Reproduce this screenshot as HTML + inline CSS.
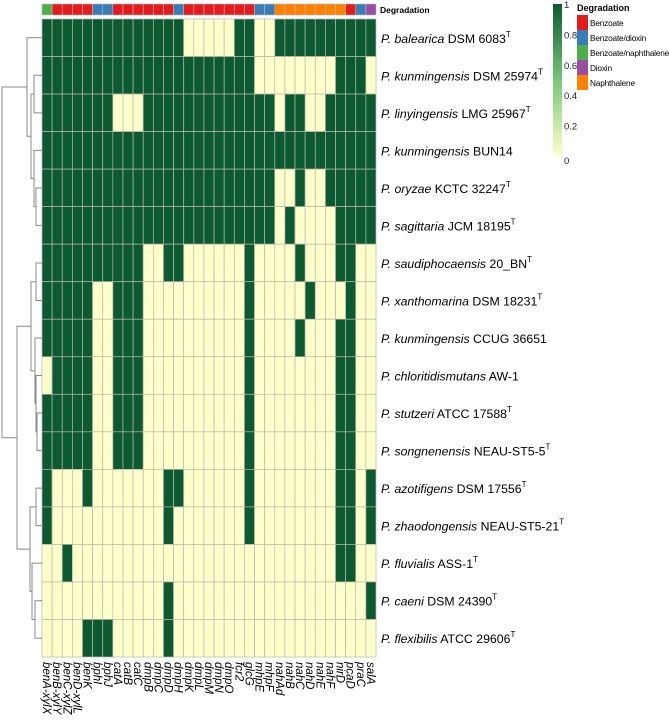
<!DOCTYPE html>
<html><head><meta charset="utf-8"><style>
body{margin:0;background:#fff;width:669px;height:720px;overflow:hidden}
svg{display:block;font-family:"Liberation Sans",sans-serif}
</style></head><body>
<svg id="chart" width="669" height="720"></svg>
<script>
const genes=["benA-xylX","benB-xylY","benC-xylZ","benD-xylL","benK","bphI","bphJ","catA","catB","catC","dmpB","dmpC","dmpD","dmpH","dmpK","dmpL","dmpM","dmpN","dmpO","fcr2","glcG","mhpE","mhpF","nahAd","nahB","nahC","nahD","nahE","nahF","nirD","pcaD","praC","salA"];
const geneClass=["Benzoate/naphthalene","Benzoate","Benzoate","Benzoate","Benzoate","Benzoate/dioxin","Benzoate/dioxin","Benzoate","Benzoate","Benzoate","Benzoate","Benzoate","Benzoate","Benzoate/dioxin","Benzoate","Benzoate","Benzoate","Benzoate","Benzoate","Benzoate","Benzoate","Benzoate/dioxin","Benzoate/dioxin","Naphthalene","Naphthalene","Naphthalene","Naphthalene","Naphthalene","Naphthalene","Naphthalene","Benzoate","Benzoate/dioxin","Dioxin"];
const speciesItalic=["P. balearica","P. kunmingensis","P. linyingensis","P. kunmingensis","P. oryzae","P. sagittaria","P. saudiphocaensis","P. xanthomarina","P. kunmingensis","P. chloritidismutans","P. stutzeri","P. songnenensis","P. azotifigens","P. zhaodongensis","P. fluvialis","P. caeni","P. flexibilis"];
const strains=["DSM 6083","DSM 25974","LMG 25967","BUN14","KCTC 32247","JCM 18195","20_BN","DSM 18231","CCUG 36651","AW-1","ATCC 17588","NEAU-ST5-5","DSM 17556","NEAU-ST5-21","ASS-1","DSM 24390","ATCC 29606"];
const typeStrain=[1,1,1,0,1,1,1,1,0,0,1,1,1,1,1,1,1];
const presence=[
"111111111111110000011001111111111",
"111111111111111111111000000001110",
"111111100011111111111110110011111",
"111111111111111111111111111111111",
"111111111111111111111110010011111",
"111111111111111111111110100001111",
"111111111100110000001000010001100",
"111110011100000000001000001000100",
"111110011100000000001000010001100",
"011110011100000000001000000001100",
"111110011100000000001000000001100",
"111110011100000000001000000001100",
"100010000000110000001000000001101",
"100000000000100000001000000001101",
"001000000000000000000000000001100",
"000000000000100000000000000000001",
"000011100000100000000000000000000"];
const colorTicks=[0,0.2,0.4,0.6,0.8,1];
const classes=["Benzoate","Benzoate/dioxin","Benzoate/naphthalene","Dioxin","Naphthalene"];
const classColors={"Benzoate":"#e41a1c","Benzoate/dioxin":"#377eb8","Benzoate/naphthalene":"#4daf4a","Dioxin":"#984ea3","Naphthalene":"#ff7f00"};

const NS="http://www.w3.org/2000/svg";
const svg=document.getElementById('chart');
function mk(t,a,p){const e=document.createElementNS(NS,t);for(const k in a)e.setAttribute(k,a[k]);(p||svg).appendChild(e);return e;}
const X0=42,X1=376,Y0=19,Y1=657;
const cw=(X1-X0)/genes.length, rh=(Y1-Y0)/speciesItalic.length;
const xs=i=>X0+i*cw, ys=j=>Y0+j*rh;
const DARK="#0b5a32",LIGHT="#ffffcc";

genes.forEach((g,i)=>{
 const r=mk('rect',{x:xs(i),y:4,width:cw,height:11,fill:classColors[geneClass[i]],stroke:"#bbb","stroke-width":0.6});
 
 
});
const at=mk('text',{x:380,y:13,"font-size":8.5,"font-weight":"bold",fill:"#000"});at.textContent="Degradation";



presence.forEach((row,j)=>{
 for(let i=0;i<genes.length;i++){
  const v=+row[i];
  const c=mk('rect',{x:xs(i),y:ys(j),width:cw,height:rh,fill:v?DARK:LIGHT,stroke:"#b8b8a8","stroke-width":0.7});
  
  
 }
});

speciesItalic.forEach((s,j)=>{
 const t=mk('text',{x:381,y:ys(j)+rh/2+5,"font-size":12.3,fill:"#000"});
 
 
 const a=mk('tspan',{"font-style":"italic"},t);a.textContent=s;
 const b=mk('tspan',{},t);b.textContent=" "+strains[j];
 if(typeStrain[j]){const c=mk('tspan',{"font-size":8,dy:-6},t);c.textContent="T";}
});

genes.forEach((g,i)=>{
 const x=xs(i)+cw/2-4;
 const t=mk('text',{x:x,y:662,"font-size":11.5,"font-style":"italic",transform:`rotate(90 ${x} 662)`,fill:"#000"});
 t.textContent=g;
 
 
});

const cy=j=>ys(j)+rh/2;
function leaf(j){return {x:X0,y:cy(j)};}
function node(a,b,x){const p=mk('path',{d:`M${a.x},${a.y}H${x}V${b.y}H${b.x}`,fill:"none",stroke:"#888","stroke-width":1});
 
 
 return {x:x,y:(a.y+b.y)/2};}
const n56=node(leaf(4),leaf(5),36);
const n456=node(leaf(3),n56,34);
const n23=node(leaf(1),leaf(2),34);
const nA2=node(n23,n456,31);
const nA=node(leaf(0),nA2,27);
const n1112=node(leaf(10),leaf(11),37);
const n10=node(leaf(9),n1112,36);
const n78=node(leaf(6),leaf(7),36);
const n9=node(leaf(8),n10,35);
const nB1=node(n78,n9,31);
const n1617=node(leaf(15),leaf(16),35);
const n15=node(leaf(14),n1617,32);
const n1314=node(leaf(12),leaf(13),36);
const nB2=node(n1314,n15,30);
const nB=node(nB1,nB2,17);
node(nA,nB,2);

const defs=mk('defs',{});
const lg=mk('linearGradient',{id:"cg",x1:0,y1:1,x2:0,y2:0},defs);
mk('stop',{offset:"0","stop-color":LIGHT},lg);
mk('stop',{offset:"0.5","stop-color":"#78c679"},lg);
mk('stop',{offset:"1","stop-color":DARK},lg);
const CB0=156,CB1=4;
const cbY=v=>CB0+(CB1-CB0)*v;
const cb=mk('rect',{x:553,y:CB1,width:9,height:CB0-CB1,fill:"url(#cg)"});


colorTicks.forEach(v=>{
 const t=mk('text',{x:564,y:cbY(v)+(v===1?4:v===0?8:4),"font-size":9.5,fill:"#222"});
 t.textContent=String(v);
 
 
});

const lt=mk('text',{x:577,y:11,"font-size":9,"font-weight":"bold",fill:"#000"});
lt.textContent="Degradation";


classes.forEach((c,k)=>{
 const g=mk('g',{});
 
 
 mk('rect',{x:577,y:15+k*15,width:11,height:15,fill:classColors[c]},g);
 const t=mk('text',{x:590,y:26+k*15,"font-size":8.3,"letter-spacing":"-0.2",fill:"#000"},g);
 t.textContent=c;
});
</script>
</body></html>
